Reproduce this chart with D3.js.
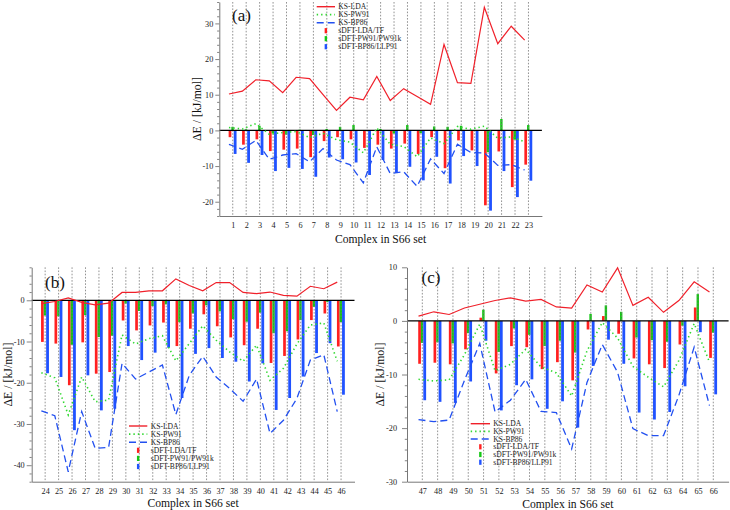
<!DOCTYPE html>
<html><head><meta charset="utf-8">
<script src="https://cdn.jsdelivr.net/npm/d3@7"></script>
<style>body{margin:0;background:#fff;} svg{display:block;}</style>
</head><body>
<svg id="chart" width="730" height="510"></svg>
<script>
// ---------- DATA ----------
const catsA = [1,2,3,4,5,6,7,8,9,10,11,12,13,14,15,16,17,18,19,20,21,22,23];
const ksLdaA  = [10.2,11.0,14.2,13.9,10.6,14.9,14.5,10.0,5.6,9.3,8.6,15.1,8.4,11.7,9.5,7.3,24.1,13.4,13.2,34.5,24.3,29.2,25.3];
const ksPw91A = [0.8,0.4,1.9,-1.1,-0.6,-0.3,-2.0,-0.8,-2.6,-3.3,-6.3,0.7,-3.9,-4.5,-7.4,-2.1,-3.7,1.1,0.3,1.2,-2.2,-1.8,-3.2];
const ksBp86A = [-3.9,-5.3,-2.8,-8.1,-6.9,-6.5,-8.8,-5.1,-8.3,-9.6,-14.7,-4.6,-12.1,-11.6,-15.7,-8.0,-12.1,-3.9,-6.2,-6.3,-9.8,-9.6,-11.1];
const sLdaA   = [-1.9,-4.0,-2.5,-5.8,-5.4,-5.1,-7.5,-3.0,-1.9,-2.5,-4.9,-4.0,-5.1,-3.7,-6.6,-1.9,-10.6,-2.8,-5.6,-21.0,-5.9,-15.9,-9.6];
const sPw91A  = [1.0,0.3,1.3,-0.8,-1.2,0.2,-1.3,0.4,1.0,1.5,-0.2,0.4,-0.9,1.5,-0.8,1.1,1.0,1.3,-0.2,-6.1,3.2,-2.6,1.5];
const sBp86A  = [-6.6,-9.1,-6.9,-11.4,-10.5,-10.8,-13.0,-7.6,-8.1,-9.0,-12.5,-8.3,-11.9,-10.2,-14.0,-7.4,-14.9,-7.2,-10.0,-22.5,-11.4,-18.7,-14.1];

const catsB = [24,25,26,27,28,29,30,31,32,33,34,35,36,37,38,39,40,41,42,43,44,45,46];
const ksLdaB  = [-0.8,-0.3,0.6,-0.5,-1.1,-0.7,1.9,1.9,2.3,2.3,5.2,3.6,2.3,4.3,4.3,1.9,1.6,2.0,1.2,1.0,3.4,2.8,4.4];
const ksPw91B = [-17.6,-18.8,-27.8,-18.6,-24.6,-24.2,-8.4,-10.6,-9.3,-8.6,-14.7,-10.5,-6.2,-9.7,-12.5,-14.8,-10.9,-19.4,-16.5,-10.6,-6.0,-5.5,-14.8];
const ksBp86B = [-26.8,-28.0,-41.6,-27.0,-35.9,-35.7,-15.3,-19.1,-17.4,-15.7,-27.7,-18.2,-13.6,-18.6,-21.4,-24.5,-19.1,-32.3,-29.1,-23.8,-14.5,-13.2,-27.0];
const sLdaB   = [-10.1,-10.5,-20.6,-10.2,-17.8,-17.4,-4.9,-7.3,-6.1,-5.4,-11.1,-6.9,-3.4,-6.3,-9.0,-10.9,-6.9,-15.2,-13.5,-9.5,-4.8,-3.2,-11.2];
const sPw91B  = [-3.7,-3.9,-10.8,-3.6,-8.9,-8.6,-0.8,-2.6,-1.4,-1.0,-5.3,-3.2,-1.2,-2.7,-4.6,-5.2,-3.0,-8.0,-7.5,-4.8,-1.6,-0.4,-5.3];
const sBp86B  = [-17.7,-18.6,-31.5,-18.2,-26.7,-26.3,-11.1,-14.5,-12.7,-11.5,-23.7,-13.0,-11.6,-14.0,-14.9,-19.7,-15.3,-26.6,-23.7,-18.5,-12.8,-10.4,-22.9];

const catsC = [47,48,49,50,51,52,53,54,55,56,57,58,59,60,61,62,63,64,65,66];
const ksLdaC  = [0.9,1.7,1.2,2.4,3.1,3.8,4.3,3.7,4.0,2.6,2.4,6.7,5.4,9.9,2.9,4.4,1.6,3.8,7.3,5.4];
const ksPw91C = [-10.9,-11.2,-11.0,-6.3,-0.6,-9.3,-8.1,-5.3,-8.6,-9.7,-14.0,-5.6,-0.3,-3.2,-8.5,-10.5,-12.3,-7.4,-0.5,-7.7];
const ksBp86C = [-18.4,-18.8,-18.5,-11.1,-4.2,-17.0,-14.8,-10.9,-16.9,-17.1,-23.9,-11.5,-4.4,-9.6,-20.1,-21.4,-21.4,-13.9,-4.9,-15.8];
const sLdaC   = [-8.0,-7.8,-8.1,-5.3,0.6,-9.8,-4.7,-4.9,-9.0,-7.7,-11.1,-1.6,0.9,-2.4,-7.0,-8.1,-8.8,-4.4,2.5,-6.9];
const sPw91C  = [-4.1,-4.0,-4.2,-2.3,2.1,-5.8,-1.4,-2.6,-4.7,-3.7,-5.9,1.3,2.9,1.7,-3.1,-3.6,-3.9,-0.9,5.0,-2.2];
const sBp86C  = [-14.8,-15.1,-15.3,-11.3,-3.7,-16.7,-12.0,-10.9,-16.4,-15.0,-19.9,-8.4,-3.5,-8.0,-17.1,-18.4,-17.0,-12.2,-2.1,-13.7];

const legendNames = ["KS-LDA","KS-PW91","KS-BP86","sDFT-LDA/TF","sDFT-PW91/PW91k","sDFT-BP86/LLP91"];
const panelLabels = ["(a)","(b)","(c)"];
const xTitle = "Complex in S66 set";
const yTitle = "\u0394E / [kJ/mol]";
const yMajorA = [-20,-10,0,10,20,30];
const yMajorB = [-40,-30,-20,-10,0];
const yMajorC = [-30,-20,-10,0,10];

// ---------- STYLE ----------
const FONT = "'Liberation Serif','Times New Roman',serif";
const RED = "#ff2020", GREEN = "#14c814", BLUE = "#2052ff";
const LRED = "#f0202a", LGREEN = "#30d830", LBLUE = "#2250f0";

const svg = d3.select("#chart");

function drawPanel(cfg, d) {
  const g = svg.append("g");
  const x = d3.scaleLinear().domain(cfg.xdom).range([cfg.left, cfg.right]);
  const y = d3.scaleLinear().domain(cfg.ydom).range([cfg.bottom, cfg.top]);

  // bars
  const barDefs = [
    {vals: d.sLda, color: RED, o0: -4.1, o1: -1.4},
    {vals: d.sPw91, color: GREEN, o0: -1.4, o1: 1.0},
    {vals: d.sBp86, color: BLUE, o0: 1.0, o1: 3.8}
  ];
  barDefs.forEach(b => {
    g.append("g").selectAll("rect").data(d.cats).join("rect")
      .attr("x", (c) => x(c) + b.o0)
      .attr("width", b.o1 - b.o0)
      .attr("y", (c, i) => Math.min(y(0), y(b.vals[i])))
      .attr("height", (c, i) => Math.abs(y(b.vals[i]) - y(0)))
      .attr("fill", b.color);
  });

  // vertical dotted grid lines
  g.append("g").selectAll("line").data(d.cats).join("line")
    .attr("x1", c => x(c)).attr("x2", c => x(c))
    .attr("y1", cfg.top).attr("y2", cfg.bottom)
    .attr("stroke", "#777").attr("stroke-width", 0.8)
    .attr("stroke-dasharray", "1.6,1.6");

  // zero line
  g.append("line").attr("x1", cfg.left).attr("x2", cfg.right)
    .attr("y1", y(0)).attr("y2", y(0))
    .attr("stroke", "#000").attr("stroke-width", 1.3);

  // KS lines
  const lo = -3.8;
  const lineDefs = [
    {vals: d.lda, color: LRED, dash: null, w: 1.2},
    {vals: d.pw91, color: LGREEN, dash: "1.4,3", w: 1.6},
    {vals: d.bp86, color: LBLUE, dash: "7,4", w: 1.3}
  ];
  lineDefs.forEach(l => {
    const gen = d3.line().x((c) => x(c) + lo).y((c, i) => y(l.vals[i]));
    g.append("path").datum(d.cats).attr("d", gen)
      .attr("fill", "none").attr("stroke", l.color).attr("stroke-width", l.w)
      .attr("stroke-dasharray", l.dash);
  });

  // axes
  const yAxis = d3.axisLeft(y).tickValues(cfg.yMajor).tickSize(cfg.tick).tickSizeOuter(0)
    .tickPadding(cfg.tickPad).tickFormat(v => String(v));
  const ya = g.append("g").attr("transform", `translate(${cfg.left},0)`).call(yAxis);
  const minor = d3.range(cfg.ydom[0], cfg.ydom[1] + 0.001, 2).filter(v => !cfg.yMajor.includes(v));
  const ym = g.append("g").attr("transform", `translate(${cfg.left},0)`)
    .call(d3.axisLeft(y).tickValues(minor).tickSize(2.2).tickSizeOuter(0).tickFormat(""));
  ym.select(".domain").remove();
  [ya, ym].forEach(a => {
    a.selectAll("line").attr("stroke", "#666").attr("stroke-width", 0.8);
  });
  ya.select(".domain").attr("stroke", "#777").attr("stroke-width", 1);
  ya.selectAll("text").attr("font-family", FONT).attr("font-size", 8.2).attr("fill", "#222");

  const xAxis = d3.axisBottom(x).tickValues(d.cats).tickSize(0).tickSizeOuter(0)
    .tickPadding(cfg.xPad).tickFormat(v => String(v));
  const xa = g.append("g").attr("transform", `translate(0,${cfg.bottom})`).call(xAxis);
  xa.select(".domain").attr("stroke", "#777").attr("stroke-width", 1);
  xa.selectAll("text").attr("font-family", FONT).attr("font-size", 8.2).attr("fill", "#222");

  // titles
  g.append("text").attr("x", (cfg.left + cfg.right) / 2).attr("y", cfg.xTitleY)
    .attr("text-anchor", "middle").attr("font-family", FONT).attr("font-size", 11.6)
    .attr("fill", "#111").text(xTitle);
  g.append("text")
    .attr("transform", `translate(${cfg.yTitleX},${(cfg.top + cfg.bottom) / 2}) rotate(-90)`)
    .attr("text-anchor", "middle").attr("font-family", FONT).attr("font-size", 11.8)
    .attr("fill", "#111").text(yTitle);
  g.append("text").attr("x", cfg.labX).attr("y", cfg.labY)
    .attr("font-family", FONT).attr("font-size", 17).attr("fill", "#111").text(cfg.label);

  // legend
  const L = cfg.legend;
  const colors = [LRED, LGREEN, LBLUE, RED, GREEN, BLUE];
  legendNames.forEach((name, i) => {
    const yy = L.y + i * L.dy;
    if (i < 3) {
      const ld = lineDefs[i];
      g.append("line").attr("x1", L.x0).attr("x2", L.x1).attr("y1", yy).attr("y2", yy)
        .attr("stroke", ld.color).attr("stroke-width", ld.w + 0.2)
        .attr("stroke-dasharray", ld.dash);
    } else {
      const cx = (L.x0 + L.x1) / 2;
      g.append("rect").attr("x", cx - 1.2).attr("y", yy - 2.6).attr("width", 2.4).attr("height", 5.2)
        .attr("fill", colors[i]);
    }
    g.append("text").attr("x", L.tx).attr("y", yy + 2.6)
      .attr("font-family", FONT).attr("font-size", 7.6).attr("fill", "#222").text(name);
  });
}

drawPanel({left: 219.3, right: 541.9, top: 2, bottom: 216, xdom: [0, 24], ydom: [-24, 36],
  yMajor: yMajorA, tick: 4, tickPad: 2, xPad: 6.5, xTitleY: 243, yTitleX: 201, label: panelLabels[0],
  labX: 232, labY: 21, legend: {x0: 316.7, x1: 335, tx: 338.3, y: 6.7, dy: 8}},
  {cats: catsA, lda: ksLdaA, pw91: ksPw91A, bp86: ksBp86A, sLda: sLdaA, sPw91: sPw91A, sBp86: sBp86A});

drawPanel({left: 31.7, right: 354.5, top: 267.3, bottom: 481.7, xdom: [23, 47], ydom: [-44, 8],
  yMajor: yMajorB, tick: 5, tickPad: 2, xPad: 6, xTitleY: 507, yTitleX: 11.5, label: panelLabels[1],
  labX: 45, labY: 287.5, legend: {x0: 129, x1: 147.3, tx: 150.7, y: 426, dy: 8.1}},
  {cats: catsB, lda: ksLdaB, pw91: ksPw91B, bp86: ksBp86B, sLda: sLdaB, sPw91: sPw91B, sBp86: sBp86B});

drawPanel({left: 407.0, right: 728.6, top: 267.3, bottom: 481.7, xdom: [46, 67], ydom: [-30, 10],
  yMajor: yMajorC, tick: 5, tickPad: 5, xPad: 6.5, xTitleY: 507.5, yTitleX: 384, label: panelLabels[2],
  labX: 421.5, labY: 283, legend: {x0: 470.7, x1: 490, tx: 493.3, y: 423.7, dy: 7.7}},
  {cats: catsC, lda: ksLdaC, pw91: ksPw91C, bp86: ksBp86C, sLda: sLdaC, sPw91: sPw91C, sBp86: sBp86C});
</script>
</body></html>
